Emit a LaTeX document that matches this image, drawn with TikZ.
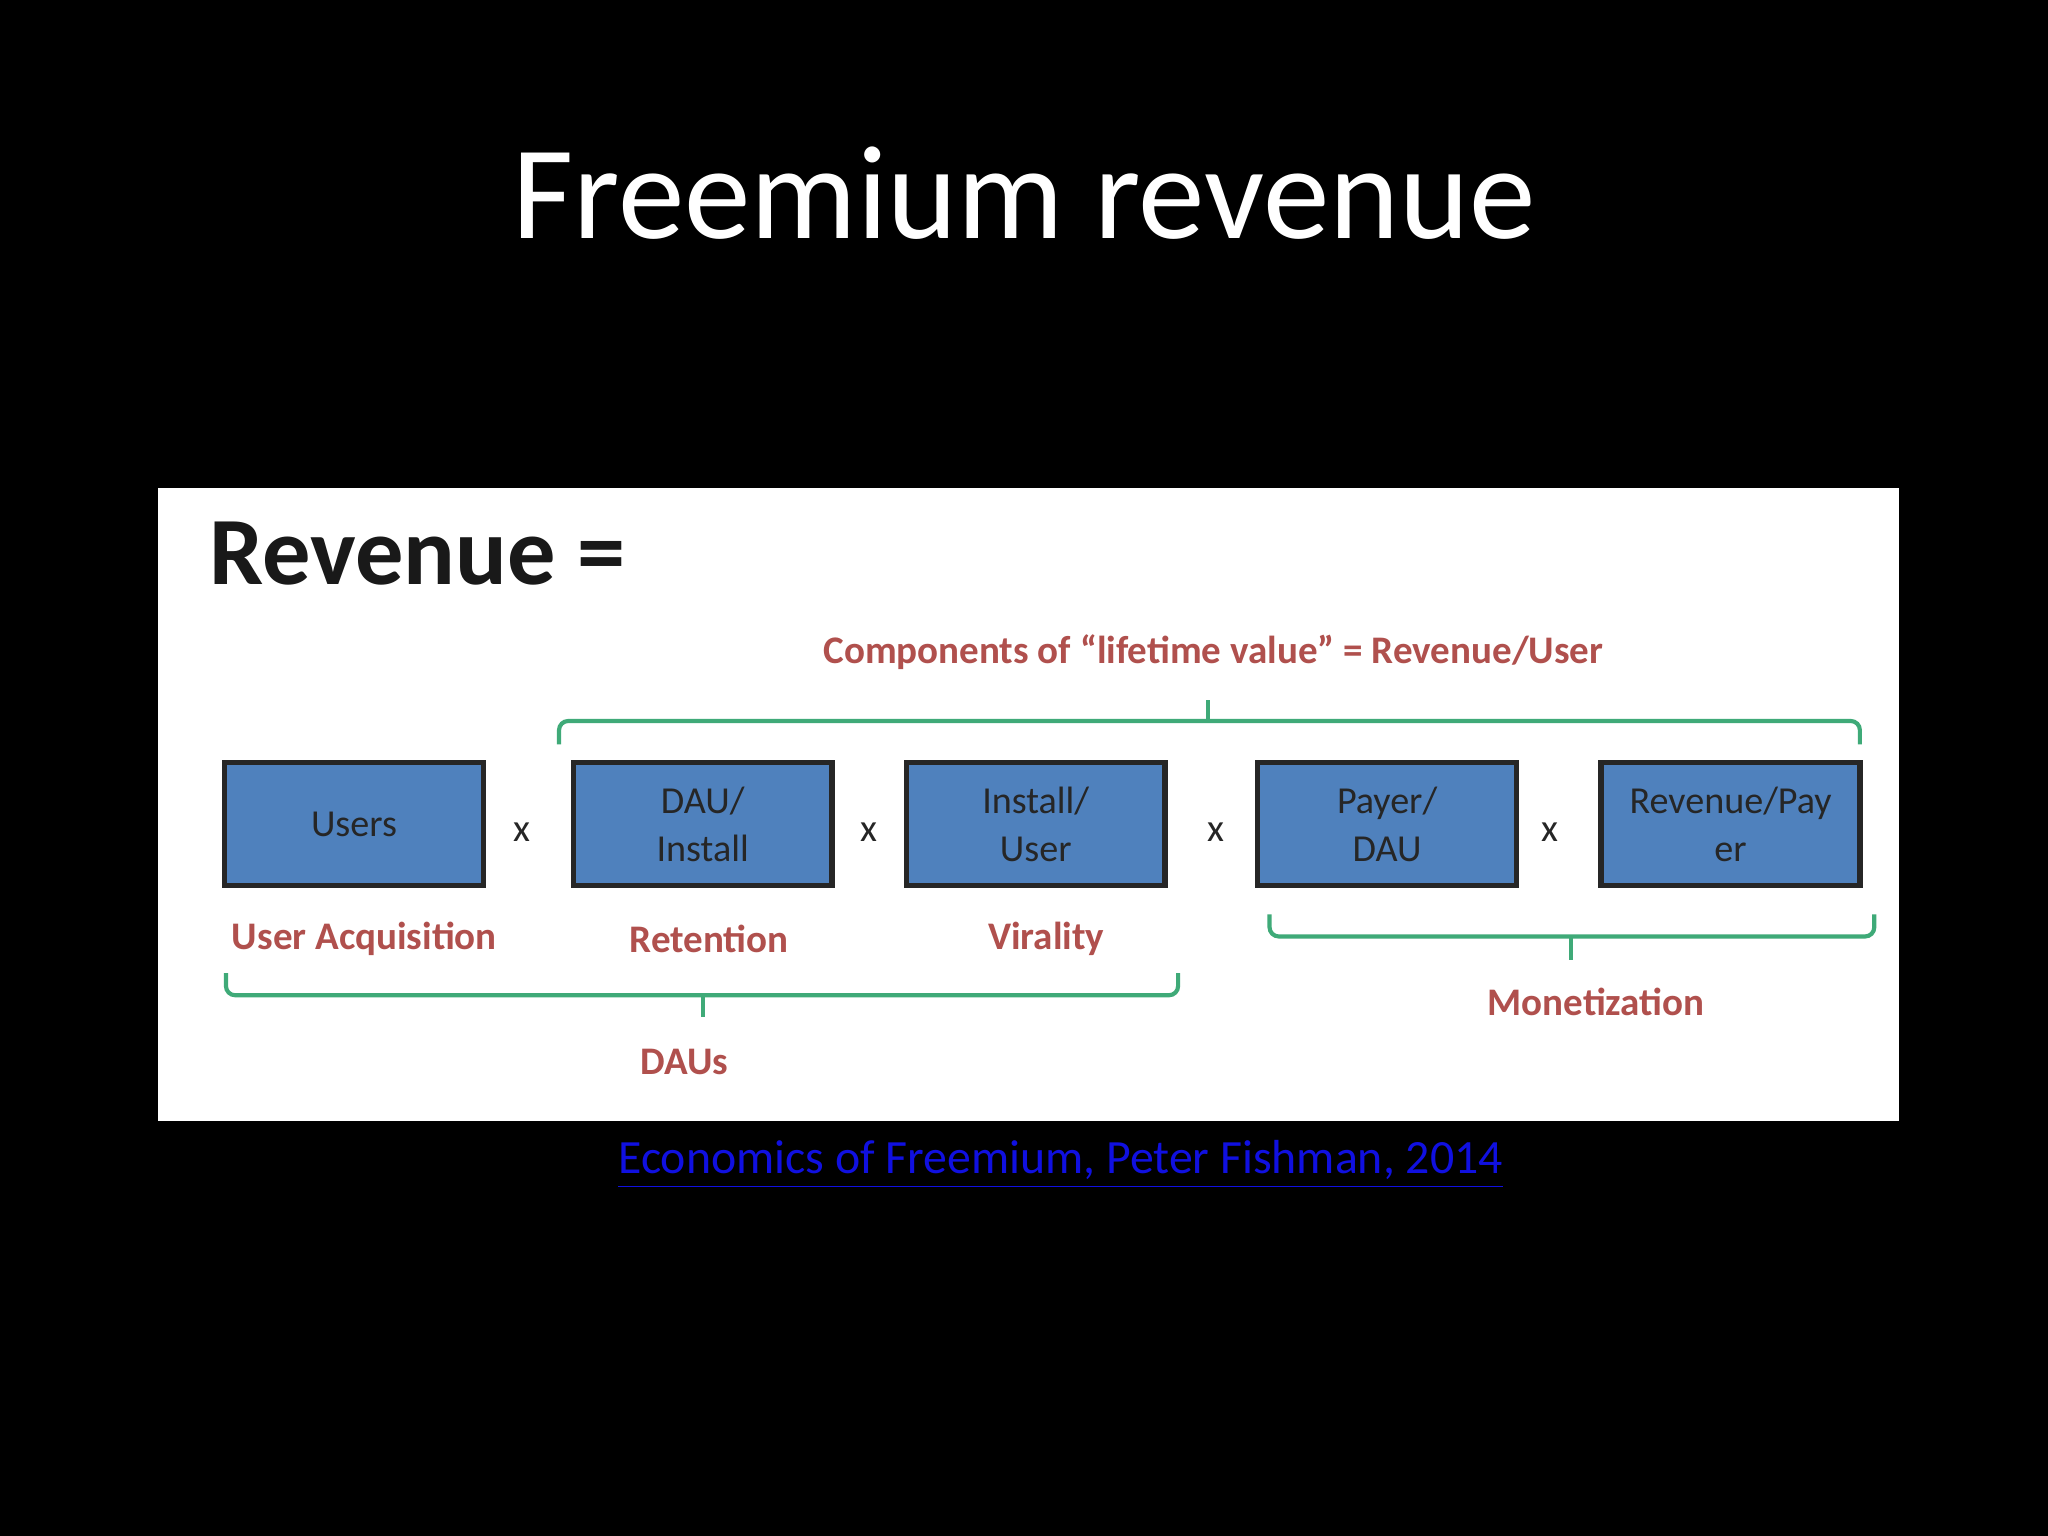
\documentclass[tikz,border=0pt]{standalone}
\usepackage{fontspec}
\setmainfont{Carlito}
\definecolor{boxblue}{HTML}{4F81BD}
\definecolor{lblred}{HTML}{B0504D}
\definecolor{brgreen}{HTML}{3FAA78}
\definecolor{linkblue}{HTML}{1010E0}
\tikzset{
  blk/.style={draw=black!85,line width=1.2pt,fill=boxblue,minimum width=1.98cm,minimum height=0.94cm,inner sep=0pt,align=center,font=\fontsize{8.3}{10.5}\selectfont,text=black!85},
  lbl/.style={text=lblred,font=\bfseries\fontsize{8.5}{10}\selectfont},
  times/.style={font=\fontsize{8.5}{10}\selectfont,text=black!85},
  brace/.style={draw=brgreen,line width=0.9pt,rounded corners=2pt}
}
\begin{document}
\begin{tikzpicture}[x=0.01cm,y=-0.01cm]
\fill[black] (0,0) rectangle (1568,1176);
\useasboundingbox (0,0) rectangle (1568,1176);
\node[text=white,font=\fontsize{29}{34}\selectfont] (title) at (784,148) {Freemium revenue};
\fill[white] (121,374) rectangle (1454,858);
\node[anchor=west,font=\bfseries\fontsize{21}{25}\selectfont,text=black!90] (rev) at (148,424) {Revenue =};
\node[blk] (b1) at (271,631) {Users};
\node[blk] (b2) at (538,631) {DAU/\\Install};
\node[blk] (b3) at (793,631) {Install/\\User};
\node[blk] (b4) at (1062,631) {Payer/\\DAU};
\node[blk] (b5) at (1325,631) {Revenue/Pay\\er};
\node[times] (x1) at (400,637) {x};
\node[times] (x2) at (665,637) {x};
\node[times] (x3) at (931,637) {x};
\node[times] (x4) at (1187,637) {x};
\node[lbl] (l1) at (279,719) {User Acquisition};
\node[lbl] (l2) at (543,719) {Retention};
\node[lbl] (l3) at (801,719) {Virality};
\node[lbl] (l4) at (1222,767) {Monetization};
\node[lbl] (l5) at (524,813) {DAUs};
\node[lbl] (l6) at (929,499) {Components of “lifetime value” = Revenue/User};
% braces
\draw[brace] (428,570) -- (428,552) -- (1424,552) -- (1424,570);
\draw[draw=brgreen,line width=0.9pt] (925,552) -- (925,536);
\draw[brace] (173,745) -- (173,762) -- (902,762) -- (902,745);
\draw[draw=brgreen,line width=0.9pt] (538,762) -- (538,779);
\draw[brace] (972,700) -- (972,717) -- (1435,717) -- (1435,700);
\draw[draw=brgreen,line width=0.9pt] (1203,717) -- (1203,735);
\node[text=linkblue,font=\fontsize{10.4}{12}\selectfont] (link) at (812,892) {\underline{Economics of Freemium, Peter Fishman, 2014}};
\end{tikzpicture}
\end{document}
